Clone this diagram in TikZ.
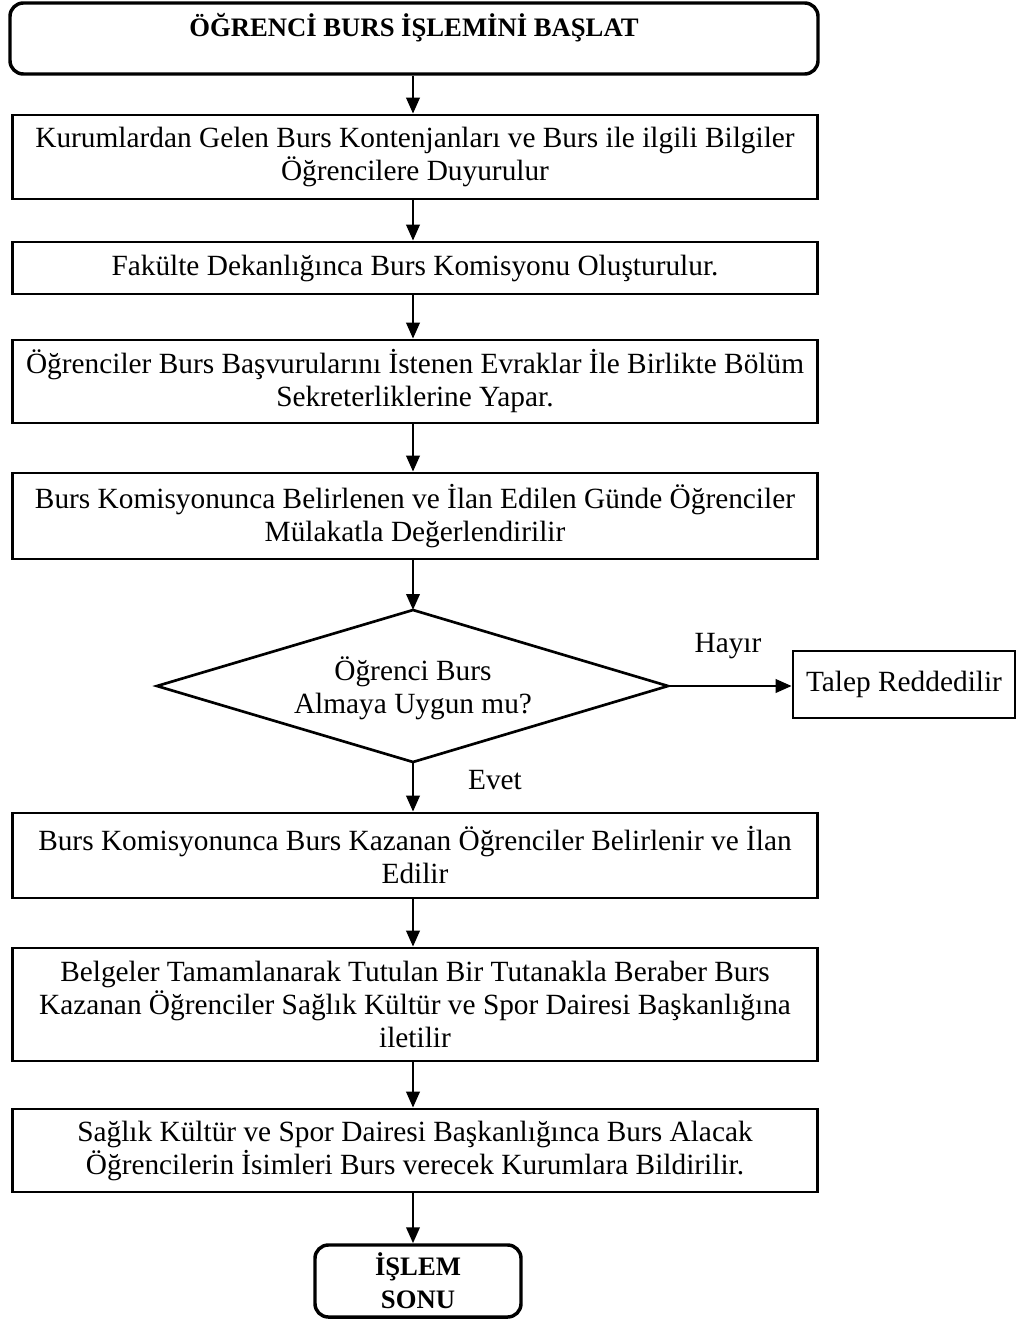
\documentclass[tikz,border=0pt]{standalone}
\usepackage{fontspec}
\setmainfont{Liberation Serif}
\usetikzlibrary{arrows.meta}
\begin{document}
\begin{tikzpicture}[x=0.75pt,y=-0.75pt,
  font=\fontsize{22}{24.75}\selectfont,
  stepbox/.style={draw,line width=2pt,minimum width=603.75pt,align=center,inner sep=0pt},
  termbox/.style={draw,line width=2.6pt,rounded corners=10pt,align=center,inner sep=0pt},
  flow/.style={line width=2pt,-{Triangle[length=12pt,width=10pt]}},
  lbl/.style={inner sep=0pt},
  boldtext/.style={font=\fontsize{20}{24.75}\selectfont\bfseries}]
\useasboundingbox (0,0) rectangle (1018,1320);

% start terminal and its title
\node[termbox,minimum width=606pt,minimum height=53.25pt] (start) at (414,38.5) {};
\node[lbl,boldtext] (starttext) at (414,28) {ÖĞRENCİ BURS İŞLEMİNİ BAŞLAT};

% process steps
\node[stepbox,minimum height=63pt] (s1) at (415,157)
  {Kurumlardan Gelen Burs Kontenjanları ve Burs ile ilgili Bilgiler\\Öğrencilere Duyurulur};
\node[stepbox,minimum height=39pt] (s2) at (415,268)
  {Fakülte Dekanlığınca Burs Komisyonu Oluşturulur.};
\node[stepbox,minimum height=62.25pt] (s3) at (415,381.5)
  {Öğrenciler Burs Başvurularını İstenen Evraklar İle Birlikte Bölüm\\Sekreterliklerine Yapar.};
\node[stepbox,minimum height=64.5pt] (s4) at (415,516)
  {Burs Komisyonunca Belirlenen ve İlan Edilen Günde Öğrenciler\\Mülakatla Değerlendirilir};

% decision diamond drawn from its four corners
\coordinate (dtop) at (413,610);
\coordinate (dleft) at (157,686);
\coordinate (dright) at (668,686);
\coordinate (dbot) at (413,762);
\draw[line width=2pt,line join=miter] (dtop) -- (dright) -- (dbot) -- (dleft) -- cycle;
\node[lbl,align=center] (dec) at (413,688) {Öğrenci Burs\\Almaya Uygun mu?};

\node[draw,line width=2pt,minimum width=166.5pt,minimum height=50.25pt,inner sep=0pt] (rej) at (904,684.5)
  {Talep Reddedilir};

\node[stepbox,minimum height=63.75pt] (s5) at (415,855.5)
  {Burs Komisyonunca Burs Kazanan Öğrenciler Belirlenir ve İlan\\Edilir};
\node[stepbox,minimum height=84.75pt] (s6) at (415,1004.5)
  {Belgeler Tamamlanarak Tutulan Bir Tutanakla Beraber Burs\\Kazanan Öğrenciler Sağlık Kültür ve Spor Dairesi Başkanlığına\\iletilir};
\node[stepbox,minimum height=62.25pt] (s7) at (415,1150.5)
  {Sağlık Kültür ve Spor Dairesi Başkanlığınca Burs Alacak\\Öğrencilerin İsimleri Burs verecek Kurumlara Bildirilir.};

% end terminal
\node[termbox,boldtext,minimum width=154.5pt,minimum height=54pt] (end) at (418,1281)
  {İŞLEM\\SONU};

% connectors
\draw[flow] (start.south -| 413,0) -- (s1.north -| 413,0);
\draw[flow] (s1.south -| 413,0) -- (s2.north -| 413,0);
\draw[flow] (s2.south -| 413,0) -- (s3.north -| 413,0);
\draw[flow] (s3.south -| 413,0) -- (s4.north -| 413,0);
\draw[flow] (s4.south -| 413,0) -- (dtop);
\draw[flow] (dright) -- (rej.west |- dright);
\node[lbl] (no) at (728,646) {Hayır};
\draw[flow] (dbot) -- (s5.north -| 413,0);
\node[lbl] (yes) at (495,780) {Evet};
\draw[flow] (s5.south -| 413,0) -- (s6.north -| 413,0);
\draw[flow] (s6.south -| 413,0) -- (s7.north -| 413,0);
\draw[flow] (s7.south -| 413,0) -- (end.north -| 413,0);
\end{tikzpicture}
\end{document}
